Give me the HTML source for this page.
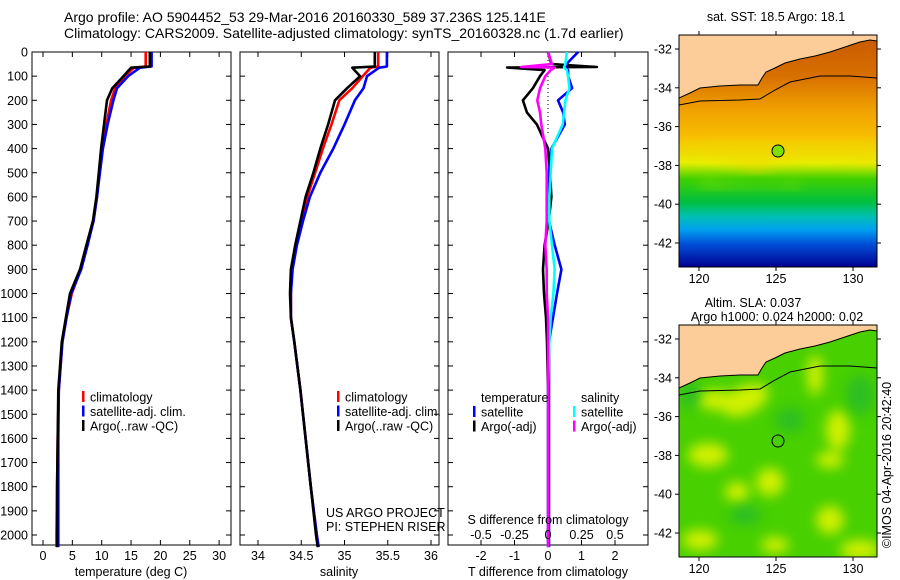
<!DOCTYPE html>
<html><head><meta charset="utf-8"><style>
html,body{margin:0;padding:0;background:#fff;}
svg{display:block;font-family:"Liberation Sans",Arial,sans-serif;}
text{font-size:12.5px;fill:#000;}
.ttl{font-size:14px;}
</style></head><body>
<svg id="fig" width="900" height="580" viewBox="0 0 900 580" xmlns="http://www.w3.org/2000/svg">
<defs>
 <linearGradient id="sstg" x1="0" y1="0" x2="0" y2="1">
  <stop offset="0" stop-color="#c85800"/>
  <stop offset="0.18" stop-color="#d87000"/>
  <stop offset="0.32" stop-color="#f0a000"/>
  <stop offset="0.45" stop-color="#f8c000"/>
  <stop offset="0.55" stop-color="#e8f000"/>
  <stop offset="0.62" stop-color="#40d000"/>
  <stop offset="0.72" stop-color="#00c040"/>
  <stop offset="0.78" stop-color="#00c0b0"/>
  <stop offset="0.84" stop-color="#00a0f0"/>
  <stop offset="0.9" stop-color="#0050d8"/>
  <stop offset="1" stop-color="#000090"/>
 </linearGradient>
 <filter id="blur4"><feGaussianBlur stdDeviation="6"/></filter>
 <clipPath id="m1clip"><rect x="679" y="35" width="198" height="232"/></clipPath>
 <clipPath id="m2clip"><rect x="679" y="325" width="198" height="232"/></clipPath>
</defs>

<text class="ttl" x="64" y="22">Argo profile: AO 5904452_53 29-Mar-2016 20160330_589 37.236S 125.141E</text>
<text class="ttl" x="64" y="38">Climatology: CARS2009. Satellite-adjusted climatology: synTS_20160328.nc (1.7d earlier)</text>

<g id="p1"></g>
<g id="p2"></g>
<g id="p3"></g>
<g id="axes"></g>

<!-- Map 1 -->
<g>
 <text x="776" y="21" text-anchor="middle">sat. SST: 18.5 Argo: 18.1</text>
 <g clip-path="url(#m1clip)">
  <rect x="679" y="35" width="198" height="232" fill="url(#sstg)"/>
  <path d="M679,150 Q720,160 760,172 Q790,150 877,165 L877,140 L679,140Z" fill="#f0d800" opacity="0.6" filter="url(#blur4)"/>
  <path d="M700,175 Q760,195 800,180 L800,190 L700,190Z" fill="#80e000" opacity="0.5" filter="url(#blur4)"/>
  <path d="M679,98 L690,93 L700,88 L720,86 L740,85 L758,85 L762,78 L766,72 L775,68 L785,63 L800,59 L815,56 L830,52 L845,47 L860,42 L870,40 L877,41 L877,35 L679,35Z" fill="#fccc99" stroke="#000" stroke-width="1"/>
  <path d="M679,105 L700,101 L740,100 L760,99 L775,90 L790,82 L820,76 L850,76 L877,78" fill="none" stroke="#000" stroke-width="1"/>
 </g>
 <rect x="679" y="35" width="198" height="232" fill="none" stroke="#000"/>
 <circle cx="778" cy="151" r="6" fill="#80e000" stroke="#000"/>
 <g id="m1ticks"></g>
</g>

<!-- Map 2 -->
<g>
 <text x="753" y="307" text-anchor="middle">Altim. SLA: 0.037</text>
 <text x="777" y="321" text-anchor="middle">Argo h1000: 0.024 h2000: 0.02</text>
 <g clip-path="url(#m2clip)">
  <rect x="679" y="325" width="198" height="232" fill="#48d000"/>
  <g filter="url(#blur4)" fill="#d0f000">
   <ellipse cx="715" cy="400" rx="18" ry="10"/>
   <ellipse cx="745" cy="400" rx="25" ry="14" transform="rotate(-25 745 400)"/>
   <ellipse cx="815" cy="375" rx="8" ry="20"/>
   <ellipse cx="838" cy="430" rx="12" ry="20"/>
   <ellipse cx="708" cy="455" rx="20" ry="12"/>
   <ellipse cx="770" cy="482" rx="14" ry="14"/>
   <ellipse cx="737" cy="492" rx="12" ry="10"/>
   <ellipse cx="830" cy="460" rx="14" ry="8"/>
   <ellipse cx="830" cy="520" rx="14" ry="14"/>
   <ellipse cx="700" cy="540" rx="18" ry="10"/>
   <ellipse cx="860" cy="550" rx="20" ry="10"/>
   <ellipse cx="775" cy="545" rx="14" ry="8"/>
  </g>
  <g filter="url(#blur4)" fill="#20b830" opacity="0.7">
   <ellipse cx="690" cy="395" rx="10" ry="14"/>
   <ellipse cx="790" cy="420" rx="15" ry="12"/>
   <ellipse cx="860" cy="395" rx="14" ry="20"/>
   <ellipse cx="745" cy="515" rx="16" ry="10"/>
  </g>
  <g transform="translate(0,290)">
   <path d="M679,98 L690,93 L700,88 L720,86 L740,85 L758,85 L762,78 L766,72 L775,68 L785,63 L800,59 L815,56 L830,52 L845,47 L860,42 L870,40 L877,41 L877,35 L679,35Z" fill="#fccc99" stroke="#000" stroke-width="1"/>
   <path d="M679,105 L700,101 L740,100 L760,99 L775,90 L790,82 L820,76 L850,76 L877,78" fill="none" stroke="#000" stroke-width="1"/>
  </g>
 </g>
 <rect x="679" y="325" width="198" height="232" fill="none" stroke="#000"/>
 <circle cx="778" cy="441" r="6" fill="none" stroke="#000"/>
 <g id="m2ticks"></g>
</g>
<text transform="translate(891,465) rotate(-90)" text-anchor="middle">©IMOS 04-Apr-2016 20:42:40</text>

<script>
// ---- data ----
const depths = [0,60,65,100,150,200,300,400,500,600,700,800,900,1000,1100,1200,1400,1600,1800,2000,2050];
const tempArgo = [18.2,18.2,15.0,13.7,11.8,10.9,10.4,9.9,9.5,9.1,8.5,7.4,6.3,4.6,3.9,3.2,2.6,2.5,2.4,2.4,2.4];
const tempClim = [17.5,17.5,15.5,13.9,12.3,11.6,10.8,10.1,9.6,9.2,8.6,7.5,6.4,4.9,4.0,3.3,2.7,2.5,2.4,2.3,2.3];
const tempSat  = [18.5,18.5,16.5,14.5,12.6,12.0,11.0,10.2,9.7,9.2,8.6,7.6,6.5,4.8,4.0,3.3,2.7,2.6,2.6,2.6,2.6];
const salArgo = [35.35,35.35,35.09,35.18,35.03,34.89,34.81,34.72,34.64,34.55,34.49,34.43,34.38,34.37,34.38,34.42,34.49,34.55,34.61,34.67,34.69];
const salClim = [35.39,35.39,35.30,35.21,35.09,34.94,34.85,34.75,34.66,34.57,34.50,34.44,34.39,34.38,34.38,34.42,34.49,34.55,34.61,34.68,34.70];
const salSat  = [35.49,35.49,35.40,35.26,35.22,35.12,35.00,34.87,34.72,34.60,34.52,34.45,34.40,34.38,34.38,34.42,34.49,34.55,34.61,34.68,34.70];
const dDepths = [0,50,62,64,75,100,150,200,250,300,400,500,600,700,800,900,1000,1100,1200,1400,2050];
const dTArgo  = [0.0,0.1,1.46,-1.22,-0.1,-0.24,-0.45,-0.75,-0.63,-0.33,0.0,0.06,0.1,0.02,-0.1,-0.15,-0.12,-0.06,-0.03,0.0,0.0];
const dTSat   = [0.9,0.55,0.5,0.5,0.6,0.6,0.72,0.3,0.45,0.5,0.1,0.03,0.03,0.03,0.2,0.4,0.27,0.15,0.03,0.03,0.03];
const dSSat   = [0.14,0.13,0.12,0.12,0.14,0.15,0.16,0.13,0.12,0.11,0.03,0.02,0.01,0.01,0.03,0.05,0.04,0.02,0.01,0.0,0.0];
const dSArgo  = [0.0,0.03,-0.2,0.05,0.02,-0.02,-0.06,-0.08,-0.06,-0.05,-0.02,-0.01,-0.01,-0.01,-0.02,-0.01,-0.01,0.0,0.0,0.0,0.0];
const depthTicks = [0,100,200,300,400,500,600,700,800,900,1000,1100,1200,1300,1400,1500,1600,1700,1800,1900,2000];
const tempTicks = [0,5,10,15,20,25,30];
const salTicks = [34,34.5,35,35.5,36];
const tdTicks = [-2,-1,0,1,2];
const sdTicks = [-0.5,-0.25,0,0.25,0.5];
const lonTicks = [120,125,130];
const latTicks = [-32,-34,-36,-38,-40,-42];

const NS='http://www.w3.org/2000/svg';
const TOP=52, BOT=545;
const yD = d => TOP + d*0.2415;
const xT = t => 43 + t*5.87;
const xS = s => 258 + (s-34)*86.5;
const xTD = t => 548 + t*33.5;
const xSD = s => 548 + s*134;
const xLon = l => 699 + (l-120)*15.4;
const yLat1 = l => 49 + (-32-l)*19.4;
const yLat2 = l => 339 + (-32-l)*19.4;

function mk(tag, attrs, parent, txt){
  const e=document.createElementNS(NS,tag);
  for(const k in attrs) e.setAttribute(k,attrs[k]);
  if(txt!==undefined) e.textContent=txt;
  parent.appendChild(e); return e;
}

function frame(g,x0,x1,name){
  const r=mk('rect',{x:x0,y:TOP,width:x1-x0,height:BOT-TOP,fill:'none',stroke:'#000','stroke-width':1},g);
  
  
  depthTicks.forEach(d=>{
    mk('line',{x1:x0,x2:x0+5,y1:yD(d),y2:yD(d),stroke:'#000'},g);
    mk('line',{x1:x1,x2:x1-5,y1:yD(d),y2:yD(d),stroke:'#000'},g);
  });
}
function xticks(g,vals,f,labelY){
  vals.forEach(v=>{
    const x=f(v);
    mk('line',{x1:x,x2:x,y1:BOT,y2:BOT-5,stroke:'#000'},g);
    mk('line',{x1:x,x2:x,y1:TOP,y2:TOP+5,stroke:'#000'},g);
    const t=mk('text',{x:x,y:labelY,'text-anchor':'middle'},g,String(v));
    
    
  });
}
function line(g,xs,ds,fx,color,name,w){
  const pts=xs.map((v,i)=>fx(v).toFixed(1)+','+yD(ds[i]).toFixed(1)).join(' ');
  const p=mk('polyline',{points:pts,fill:'none',stroke:color,'stroke-width':w||2.6,'stroke-linejoin':'round'},g);
  
  
}
function legend(g,x,y,items){
  items.forEach((it,i)=>{
    const yy=y+i*14.5;
    mk('rect',{x:x,y:yy-6,width:2.5,height:11,fill:it[1]},g);
    const t=mk('text',{x:x+8,y:yy+4.5},g,it[0]);
    
    
  });
}

const ax=document.getElementById('axes');
depthTicks.forEach(d=>{
  const t=mk('text',{x:28,y:yD(d)+4.5,'text-anchor':'end'},ax,String(d));
  
  
});

// panel 1
const p1=document.getElementById('p1');
frame(p1,32,231,'temperature-plot-frame');
xticks(p1,tempTicks,xT,560);
mk('text',{x:131,y:576,'text-anchor':'middle'},p1,'temperature (deg C)');
line(p1,tempClim,depths,xT,'#ff0000','temp-climatology-line');
line(p1,tempSat,depths,xT,'#0000ff','temp-satellite-line');
line(p1,tempArgo,depths,xT,'#000000','temp-argo-line');
legend(p1,82,397,[['climatology','#ff0000'],['satellite-adj. clim.','#0000ff'],['Argo(..raw -QC)','#000']]);

// panel 2
const p2=document.getElementById('p2');
frame(p2,240,439,'salinity-plot-frame');
xticks(p2,salTicks,xS,560);
mk('text',{x:339,y:576,'text-anchor':'middle'},p2,'salinity');
line(p2,salClim,depths,xS,'#ff0000','sal-climatology-line');
line(p2,salSat,depths,xS,'#0000ff','sal-satellite-line');
line(p2,salArgo,depths,xS,'#000000','sal-argo-line');
legend(p2,337,397,[['climatology','#ff0000'],['satellite-adj. clim.','#0000ff'],['Argo(..raw -QC)','#000']]);
mk('text',{x:326,y:517},p2,'US ARGO PROJECT');
mk('text',{x:326,y:531},p2,'PI: STEPHEN RISER');

// panel 3
const p3=document.getElementById('p3');
frame(p3,448,648,'difference-plot-frame');
tdTicks.forEach(v=>{mk('line',{x1:xTD(v),x2:xTD(v),y1:BOT,y2:BOT-5,stroke:'#000'},p3);mk('line',{x1:xTD(v),x2:xTD(v),y1:TOP,y2:TOP+5,stroke:'#000'},p3);
  const t=mk('text',{x:xTD(v),y:560,'text-anchor':'middle'},p3,String(v));
  
  });
mk('line',{x1:548,x2:548,y1:TOP,y2:135,stroke:'#000','stroke-dasharray':'1,3'},p3);
line(p3,dTArgo,dDepths,xTD,'#000000','t-diff-argo-line');
line(p3,dTSat,dDepths,xTD,'#0000ff','t-diff-satellite-line');
line(p3,dSSat,dDepths,xSD,'#00ffff','s-diff-satellite-line');
line(p3,dSArgo,dDepths,xSD,'#ff00ff','s-diff-argo-line');
mk('text',{x:548,y:524,'text-anchor':'middle'},p3,'S difference from climatology');
sdTicks.forEach(v=>{const t=mk('text',{x:xSD(v),y:539,'text-anchor':'middle'},p3,String(v));
  
  });
mk('text',{x:548,y:576,'text-anchor':'middle'},p3,'T difference from climatology');
mk('text',{x:481,y:402},p3,'temperature');
mk('text',{x:581,y:402},p3,'salinity');
legend(p3,473,412,[['satellite','#0000ff'],['Argo(-adj)','#000']]);
legend(p3,573,412,[['satellite','#00ffff'],['Argo(-adj)','#ff00ff']]);

function mapTicks(g,yTop,yBot,yl){
  lonTicks.forEach(l=>{
    mk('line',{x1:xLon(l),x2:xLon(l),y1:yTop,y2:yTop-4,stroke:'#000'},g);
    mk('line',{x1:xLon(l),x2:xLon(l),y1:yBot,y2:yBot+4,stroke:'#000'},g);
    const t=mk('text',{x:xLon(l),y:yBot+16,'text-anchor':'middle'},g,String(l));
    
    
  });
  latTicks.forEach(l=>{
    mk('line',{x1:679,x2:675,y1:yl(l),y2:yl(l),stroke:'#000'},g);
    mk('line',{x1:877,x2:881,y1:yl(l),y2:yl(l),stroke:'#000'},g);
    const t=mk('text',{x:672,y:yl(l)+4.5,'text-anchor':'end'},g,String(l));
    
    
  });
}
mapTicks(document.getElementById('m1ticks'),35,267,yLat1);
mapTicks(document.getElementById('m2ticks'),325,557,yLat2);
</script>
</svg>
</body></html>
